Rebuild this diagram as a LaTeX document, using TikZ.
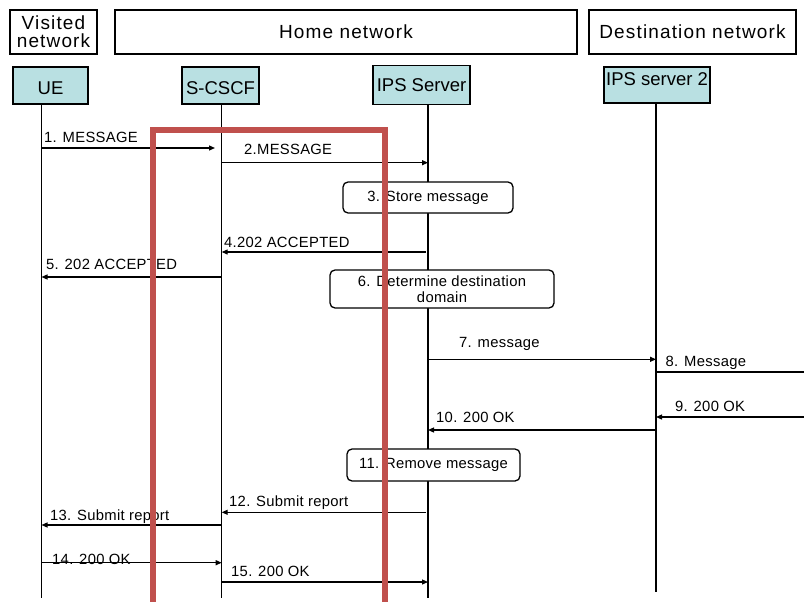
\documentclass[tikz,border=0pt]{standalone}
\usepackage{fontspec}
\setmainfont{Liberation Sans}
\newfontfamily\netfont[LetterSpace=6]{Liberation Sans}
\newfontfamily\msgfont[LetterSpace=2]{Liberation Sans}
\usetikzlibrary{arrows.meta}
\definecolor{entfill}{RGB}{185,224,226}
\definecolor{frame}{RGB}{192,80,77}
\begin{document}
\begin{tikzpicture}[x=1pt,y=-1pt,
  netbox/.style={draw,line width=1.3pt,inner sep=0pt,align=center,
    font=\netfont\fontsize{19}{18}\selectfont},
  entity/.style={draw,line width=1.3pt,fill=entfill,inner sep=0pt,
    text height=18pt,text depth=0pt,font=\fontsize{18.5}{20}\selectfont},
  life/.style={line width=1.5pt},
  msg/.style={line width=1.2pt,-{Triangle[length=6pt,width=5pt]}},
  plain/.style={line width=1.2pt},
  lbl/.style={inner sep=0pt,anchor=base west,font=\msgfont\fontsize{14.8}{16}\selectfont},
  action/.style={draw,line width=1.3pt,rounded corners=5pt,fill=white,inner sep=0pt,
    align=center,font=\msgfont\fontsize{14.8}{16.5}\selectfont},
  redframe/.style={draw=frame,line width=6.5pt}
]
\useasboundingbox (0,0) rectangle (804,602);

% network domains
\node[netbox,minimum width=87pt,minimum height=44pt] (visited) at (53.5,32) {Visited\\network};
\node[netbox,minimum width=462pt,minimum height=44pt] (home) at (346,32) {Home network};
\node[netbox,minimum width=207pt,minimum height=44pt] (dest) at (692.5,32) {Destination network};

% entities
\node[entity,minimum width=75pt,minimum height=37pt] (ue) at (50.5,85.5) {UE};
\node[entity,minimum width=77pt,minimum height=37pt] (scscf) at (220.5,85.5) {S-CSCF};
\node[entity,minimum width=97pt,minimum height=39pt,text height=13pt] (ips) at (421.5,85) {IPS Server};
\node[entity,minimum width=106pt,minimum height=36pt,text height=13pt,text depth=12pt] (ips2) at (657,85) {IPS server 2};

% lifelines
\coordinate (ueT) at (41.5,104);   \coordinate (ueB) at (41.5,598);
\coordinate (scT) at (221.7,104);  \coordinate (scB) at (221.7,598);
\coordinate (ipT) at (428,105);    \coordinate (ipB) at (428,598);
\coordinate (i2T) at (656,103);    \coordinate (i2B) at (656,592);
\coordinate (edge) at (804,0);
\draw[life] (ueT) -- (ueB);
\draw[life] (scT) -- (scB);
\draw[life] (ipT) -- (ipB);
\draw[life] (i2T) -- (i2B);

% messages
\draw[msg] (ueT |- 0,148) -- (215,148);
\node[lbl] (m1) at (44,142.7) {1. MESSAGE};
\draw[msg] (scT |- 0,162.7) -- (ipT |- 0,162.7);
\node[lbl] (m2) at (244,154.7) {2.MESSAGE};

\node[action,minimum width=170pt,minimum height=31pt] (a3) at (428,197.5) {3. Store message};

\draw[msg] (426,252) -- (scT |- 0,252);
\node[lbl] (m4) at (224,247.7) {4.202 ACCEPTED};
\draw[msg] (scT |- 0,277) -- (ueT |- 0,277);
\node[lbl] (m5) at (46,269.7) {5. 202 ACCEPTED};

\node[action,minimum width=224pt,minimum height=38pt] (a6) at (442,289) {6. Determine destination\\domain};

\draw[msg] (ipT |- 0,359.3) -- (i2T |- 0,359.3);
\node[lbl] (m7) at (459,347.7) {7. message};
\draw[plain] (i2T |- 0,372) -- (edge |- 0,372);
\node[lbl] (m8) at (665.5,366.7) {8. Message};
\draw[msg] (edge |- 0,417) -- (i2T |- 0,417);
\node[lbl] (m9) at (675,411.7) {9. 200 OK};
\draw[msg] (i2T |- 0,430) -- (ipT |- 0,430);
\node[lbl] (m10) at (436,422.3) {10. 200 OK};

\node[action,minimum width=173pt,minimum height=32pt] (a11) at (433.5,465) {11. Remove message};

\draw[msg] (426,512.3) -- (scT |- 0,512.3);
\node[lbl] (m12) at (229,506.7) {12. Submit report};
\draw[msg] (scT |- 0,525) -- (ueT |- 0,525);
\node[lbl] (m13) at (50,520) {13. Submit report};
\draw[msg] (ueT |- 0,562.7) -- (scT |- 0,562.7);
\node[lbl] (m14) at (52,564.5) {14. 200 OK};
\draw[msg] (scT |- 0,582) -- (ipT |- 0,582);
\node[lbl] (m15) at (231,576.7) {15. 200 OK};

% highlight frame
\coordinate (fTL) at (153,130);
\coordinate (fTR) at (385,130);
\draw[redframe] (fTL |- 0,610) -- (fTL) -- (fTR) -- (fTR |- 0,610);
\end{tikzpicture}
\end{document}
